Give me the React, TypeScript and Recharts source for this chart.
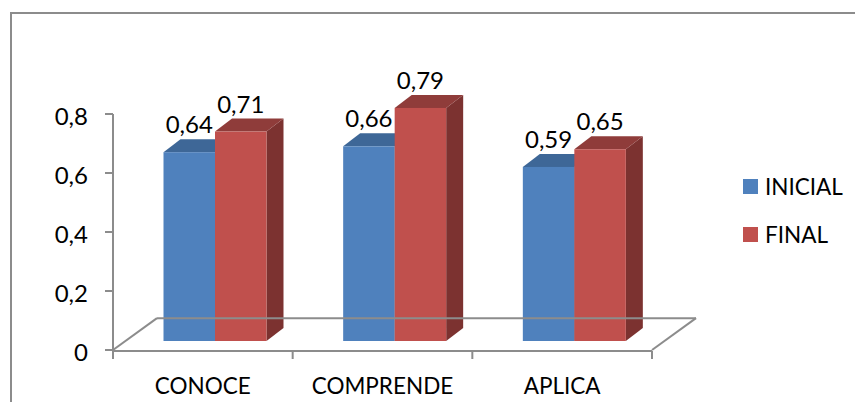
import { BarChart, Bar, XAxis, YAxis, Legend, LabelList, ReferenceLine } from "recharts";

const categories = ["CONOCE", "COMPRENDE", "APLICA"];
const inicial = [0.64, 0.66, 0.59];
const final = [0.71, 0.79, 0.65];
const yTicks = [0, 0.2, 0.4, 0.6, 0.8];
const edgeTicks = [0, 1, 2, 3];

const data = categories.map((name, i) => ({ name, inicial: inicial[i], final: final[i] }));

const FONT = "Lato, Carlito, sans-serif";
const AXIS = "#8c8c8c";

// fake 3D: where the bars stand on the floor relative to the axes, and how deep they are
const SHIFT_X = 12.5;
const SHIFT_Y = -9;
const DEPTH_X = 17;
const DEPTH_Y = -13;

const comma = (v: number) => String(v).replace(".", ",");

function bar3d(top: string, side: string) {
  return (props: any) => {
    const { fill, width, height } = props;
    const x = props.x + SHIFT_X;
    const y = props.y + SHIFT_Y;
    const r = x + width;
    const b = y + height;
    return (
      <g>
        <polygon
          points={`${r},${y} ${r + DEPTH_X},${y + DEPTH_Y} ${r + DEPTH_X},${b + DEPTH_Y} ${r},${b}`}
          fill={side}
        />
        <polygon
          points={`${x},${y} ${x + DEPTH_X},${y + DEPTH_Y} ${r + DEPTH_X},${y + DEPTH_Y} ${r},${y}`}
          fill={top}
        />
        <rect x={x} y={y} width={width} height={height} fill={fill} />
      </g>
    );
  };
}

function valueLabel(props: any) {
  const { x, y, width, value } = props;
  return (
    <text
      x={x + width / 2 + SHIFT_X}
      y={y + SHIFT_Y + DEPTH_Y - 6}
      textAnchor="middle"
      fontFamily={FONT}
      fontSize={24}
      fill="#000"
    >
      {comma(value)}
    </text>
  );
}

function LegendBox({ payload }: any) {
  return (
    <div style={{ fontFamily: FONT, fontSize: 22.5, color: "#000" }}>
      {(payload ?? []).map((p: any) => (
        <div key={p.value} style={{ display: "flex", alignItems: "center", height: 24, marginBottom: 24 }}>
          <span style={{ width: 15, height: 15, background: p.color, marginRight: 7 }} />
          {p.value}
        </div>
      ))}
    </div>
  );
}

// floor outline, in axis units so it follows the scales
const floorX = 0.245;
const floorY = 0.108;

export default function App() {
  return (
    <div style={{ position: "absolute", left: 0, top: 0, width: 855, height: 402, overflow: "hidden", background: "#fff" }}>
      <div
        style={{
          position: "absolute",
          left: 10,
          top: 12,
          width: 860,
          height: 420,
          border: "2px solid #8c8c8c",
        }}
      />
      <BarChart
        width={855}
        height={402}
        data={data}
        margin={{ top: 114, right: 203, bottom: 50, left: 0 }}
        barSize={51.5}
        barGap={0}
        style={{ position: "absolute", left: 0, top: 0 }}
      >
        <XAxis
          xAxisId="edge"
          type="number"
          dataKey={(d: any) => categories.indexOf(d.name)}
          domain={[0, 3]}
          ticks={edgeTicks}
          tickFormatter={() => ""}
          height={1}
          stroke={AXIS}
          strokeWidth={2}
          tickSize={8}
        />
        <XAxis
          dataKey="name"
          height={1}
          axisLine={false}
          tickLine={false}
          tickMargin={22}
          interval={0}
          tick={{ fontFamily: FONT, fontSize: 22.5, fill: "#000" }}
        />
        <YAxis
          width={113}
          domain={[0, 0.8]}
          ticks={yTicks}
          tickFormatter={comma}
          stroke={AXIS}
          strokeWidth={2}
          tickSize={8}
          tickMargin={17}
          tick={{ fontFamily: FONT, fontSize: 24, fill: "#000", dy: 2 }}
        />
        <ReferenceLine
          xAxisId="edge"
          ifOverflow="visible"
          stroke={AXIS}
          strokeWidth={2}
          segment={[{ x: 0, y: 0 }, { x: floorX, y: floorY }]}
        />
        <ReferenceLine
          xAxisId="edge"
          ifOverflow="visible"
          stroke={AXIS}
          strokeWidth={2}
          segment={[{ x: floorX, y: floorY }, { x: 3 + floorX, y: floorY }]}
        />
        <ReferenceLine
          xAxisId="edge"
          ifOverflow="visible"
          stroke={AXIS}
          strokeWidth={2}
          segment={[{ x: 3 + floorX, y: floorY }, { x: 3, y: 0 }]}
        />
        <Legend
          layout="vertical"
          align="center"
          verticalAlign="middle"
          itemSorter={null}
          content={LegendBox}
          wrapperStyle={{ left: 743, top: 174, width: 112, bottom: "auto", right: "auto" }}
        />
        <Bar dataKey="inicial" name="INICIAL" fill="#4f81bd" shape={bar3d("#3e6797", "#3a5f8b")} isAnimationActive={false}>
          <LabelList dataKey="inicial" content={valueLabel} />
        </Bar>
        <Bar dataKey="final" name="FINAL" fill="#c0504d" shape={bar3d("#8f3c3a", "#7c3230")} isAnimationActive={false}>
          <LabelList dataKey="final" content={valueLabel} />
        </Bar>
      </BarChart>
    </div>
  );
}
